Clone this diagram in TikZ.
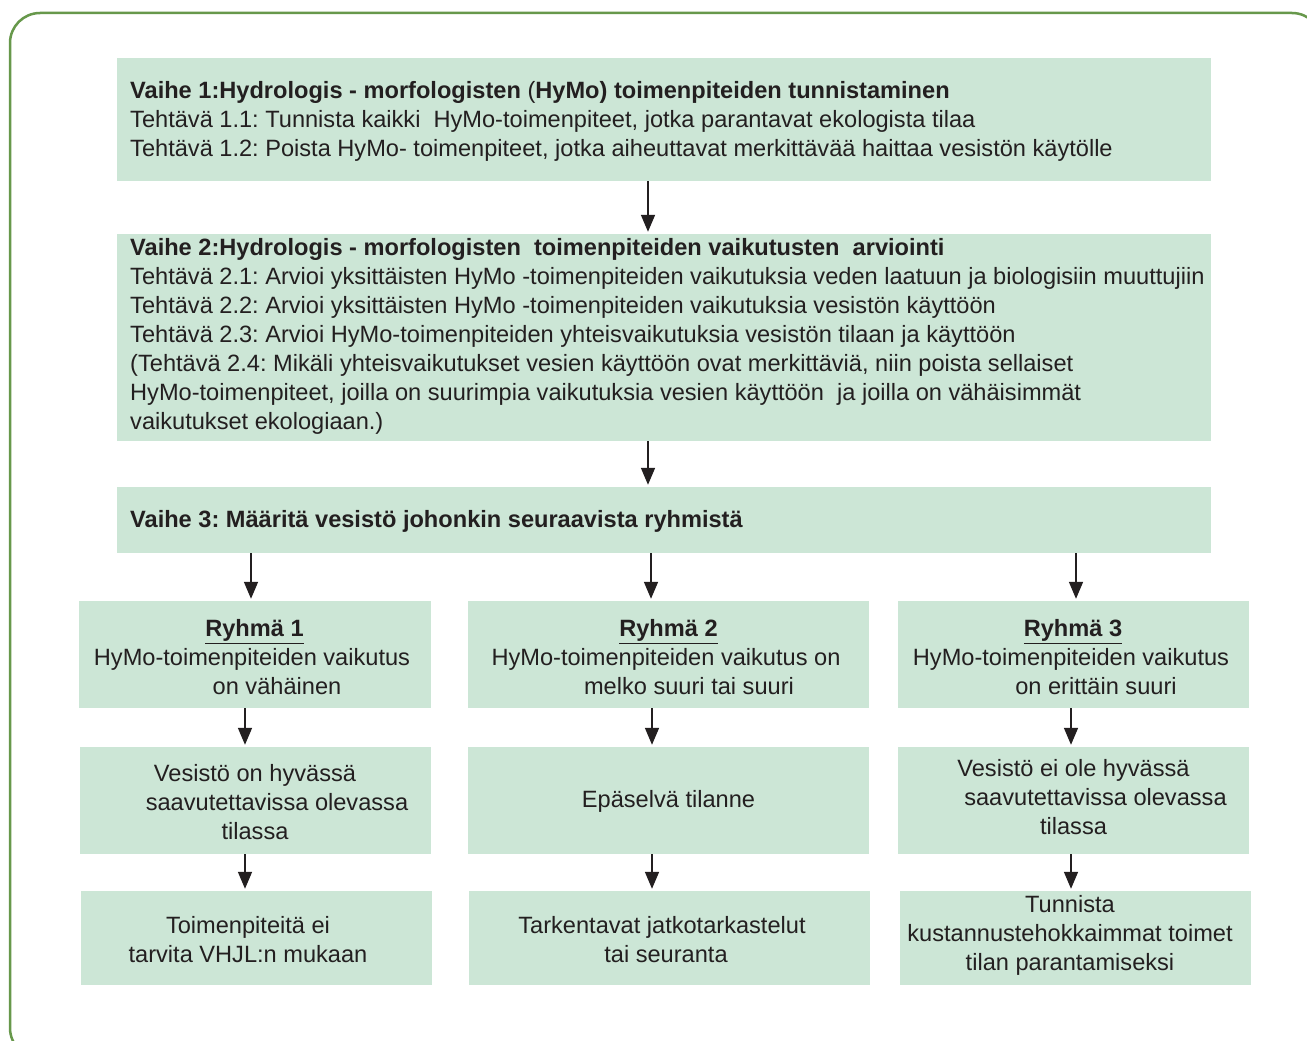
\documentclass[tikz,border=0pt]{standalone}
\usepackage{fontspec}
\setmainfont{Liberation Sans}
\frenchspacing
\usetikzlibrary{arrows.meta}
\definecolor{boxfill}{RGB}{204,230,214}
\definecolor{txt}{RGB}{35,31,32}
\definecolor{frame}{RGB}{103,152,75}
\begin{document}
\begin{tikzpicture}[x=1pt,y=-1pt,
  every node/.style={font=\fontsize{23.6}{29}\selectfont, text=txt},
  box/.style={fill=boxfill, draw=none, inner sep=0pt},
  lbl/.style={inner sep=0pt, align=center},
  lbll/.style={inner sep=0pt, align=left, anchor=west},
  arr/.style={draw=txt, line width=1.6pt, -{Triangle[width=14pt,length=17pt]}, shorten >=2pt}]
\useasboundingbox (0,0) rectangle (1307,1041);
\fill[white] (0,0) rectangle (1307,1041);
\clip (0,0) rectangle (1307,1041);
\draw[frame, line width=2.5pt, rounded corners=30pt] (10,13) rectangle (1322,1058);

% wide boxes
\node[box, minimum width=1094pt, minimum height=123pt] (v1) at (664,119.5) {};
\node[lbll] (v1t) at (130,121) {%
\textbf{Vaihe 1:Hydrologis - morfologisten }(\textbf{HyMo) toimenpiteiden tunnistaminen}\\
Tehtävä 1.1: Tunnista kaikki\ \ HyMo-toimenpiteet, jotka parantavat ekologista tilaa\\
Tehtävä 1.2: Poista HyMo- toimenpiteet, jotka aiheuttavat merkittävää haittaa vesistön käytölle};

\node[box, minimum width=1094pt, minimum height=207pt] (v2) at (664,337.5) {};
\node[lbll] (v2t) at (130,336) {%
\textbf{Vaihe 2:Hydrologis - morfologisten\ \ toimenpiteiden vaikutusten\ \ arviointi}\\
Tehtävä 2.1: Arvioi yksittäisten HyMo -toimenpiteiden vaikutuksia veden laatuun ja biologisiin muuttujiin\\
Tehtävä 2.2: Arvioi yksittäisten HyMo -toimenpiteiden vaikutuksia vesistön käyttöön\\
Tehtävä 2.3: Arvioi HyMo-toimenpiteiden yhteisvaikutuksia vesistön tilaan ja käyttöön\\
(Tehtävä 2.4: Mikäli yhteisvaikutukset vesien käyttöön ovat merkittäviä, niin poista sellaiset\\
HyMo-toimenpiteet, joilla on suurimpia vaikutuksia vesien käyttöön\ \ ja joilla on vähäisimmät\\
vaikutukset ekologiaan.)};

\node[box, minimum width=1094pt, minimum height=66pt] (v3) at (664,520) {};
\node[lbll] (v3t) at (130,521) {%
\textbf{Vaihe 3: Määritä vesistö johonkin seuraavista ryhmistä}};

% group row
\node[box, minimum width=352pt, minimum height=107pt] (r1) at (255,654.5) {};
\node[box, minimum width=401pt, minimum height=107pt] (r2) at (668.5,654.5) {};
\node[box, minimum width=351pt, minimum height=107pt] (r3) at (1073.5,654.5) {};
\node[lbl] (r1t) at (252,657.5) {%
\hspace*{5pt}\underline{\textbf{Ryhmä 1}}\\HyMo-toimenpiteiden vaikutus\\\hspace*{50pt}on vähäinen};
\node[lbl] (r2t) at (666,657.5) {%
\hspace*{5pt}\underline{\textbf{Ryhmä 2}}\\HyMo-toimenpiteiden vaikutus on\\\hspace*{46pt}melko suuri tai suuri};
\node[lbl] (r3t) at (1071,657.5) {%
\hspace*{4pt}\underline{\textbf{Ryhmä 3}}\\HyMo-toimenpiteiden vaikutus\\\hspace*{50pt}on erittäin suuri};

% state row
\node[box, minimum width=351pt, minimum height=107pt] (s1) at (255.5,800.5) {};
\node[box, minimum width=401pt, minimum height=107pt] (s2) at (668.5,800.5) {};
\node[box, minimum width=351pt, minimum height=107pt] (s3) at (1073.5,800.5) {};
\node[lbl] (s1t) at (255,802) {%
Vesistö on hyvässä\\\hspace*{44pt}saavutettavissa olevassa\\tilassa};
\node[lbl] (s2t) at (668.5,801) {Epäselvä tilanne};
\node[lbl] (s3t) at (1073.5,797.5) {%
Vesistö ei ole hyvässä\\\hspace*{44pt}saavutettavissa olevassa\\tilassa};

% action row
\node[box, minimum width=351pt, minimum height=94pt] (a1) at (256.5,938) {};
\node[box, minimum width=401pt, minimum height=94pt] (a2) at (669.5,938) {};
\node[box, minimum width=351pt, minimum height=94pt] (a3) at (1075.5,938) {};
\node[lbl] (a1t) at (248,940) {Toimenpiteitä ei\\tarvita VHJL:n mukaan};
\node[lbl] (a2t) at (662,940) {Tarkentavat jatkotarkastelut\\\hspace*{8pt}tai seuranta};
\node[lbl] (a3t) at (1070,935.5) {Tunnista\\kustannustehokkaimmat toimet\\tilan parantamiseksi};

% arrow x positions
\coordinate (xm) at (648,0);
\coordinate (xa) at (251,0);
\coordinate (xb) at (651,0);
\coordinate (xc) at (1076,0);
\coordinate (xd) at (245,0);
\coordinate (xe) at (652,0);
\coordinate (xf) at (1071,0);

\draw[arr] (v1.south -| xm) -- (v2.north -| xm);
\draw[arr] (v2.south -| xm) -- (v3.north -| xm);
\draw[arr] (v3.south -| xa) -- (r1.north -| xa);
\draw[arr] (v3.south -| xb) -- (r2.north -| xb);
\draw[arr] (v3.south -| xc) -- (r3.north -| xc);
\draw[arr] (r1.south -| xd) -- (s1.north -| xd);
\draw[arr] (r2.south -| xe) -- (s2.north -| xe);
\draw[arr] (r3.south -| xf) -- (s3.north -| xf);
\draw[arr] (s1.south -| xd) -- (a1.north -| xd);
\draw[arr] (s2.south -| xe) -- (a2.north -| xe);
\draw[arr] (s3.south -| xf) -- (a3.north -| xf);
\end{tikzpicture}
\end{document}
